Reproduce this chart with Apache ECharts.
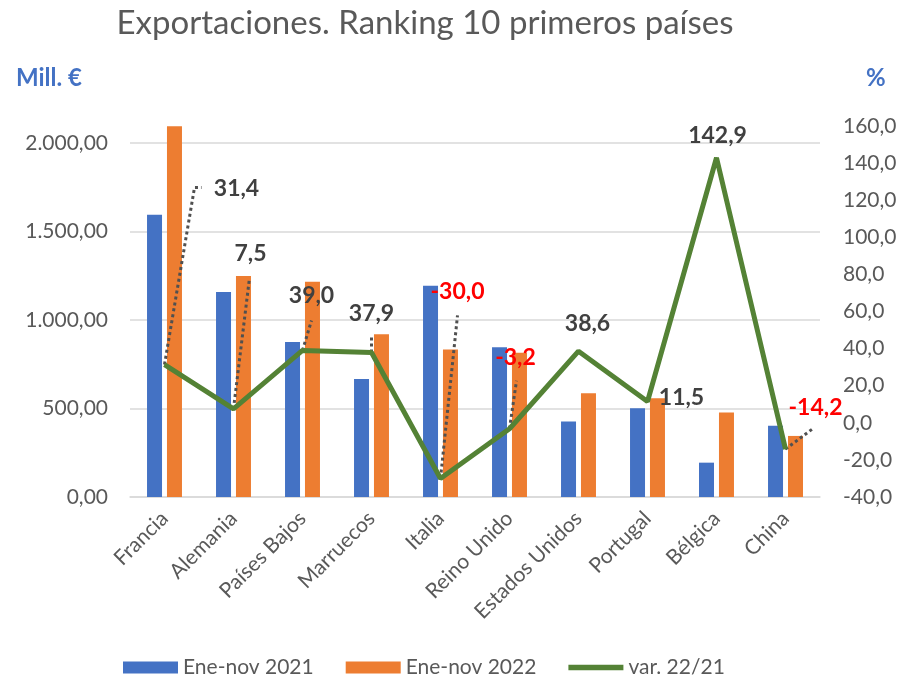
<!DOCTYPE html>
<html>
<head>
<meta charset="utf-8">
<script src="https://cdn.jsdelivr.net/npm/echarts@6/dist/echarts.min.js"></script>
<style>
    html, body { margin: 0; padding: 0; background: #fff; }
    #chart { width: 901px; height: 678px; }
</style>
</head>
<body>
<div id="chart"></div>
<script>
// datos
const paises = ['Francia', 'Alemania', 'Países Bajos', 'Marruecos', 'Italia', 'Reino Unido', 'Estados Unidos', 'Portugal', 'Bélgica', 'China'];
const ene2021 = [1595, 1158, 876, 667, 1194, 846, 426, 501, 194, 403];
const ene2022 = [2095, 1249, 1216, 919, 834, 815, 586, 558, 478, 345];
const variacion = [31.4, 7.5, 39.0, 37.9, -30.0, -3.2, 38.6, 11.5, 142.9, -14.2];

// posición de cada etiqueta respecto a su punto (px) y codos de la línea guía
const etiquetas = [
    [72, -176, [30, -177], [37, -177]],
    [17, -155, [16, -131]],
    [9, -55, [9, -30]],
    [0, -39, [0, -17]],
    [17, -187, [17, -163]],
    [6, -71, [7, -48]],
    [9, -28],
    [34, -4],
    [1, -22],
    [30, -42, [28, -21]]
];

const gris = '#595959';
const fuente = 'Lato, "Open Sans", sans-serif';

// 2000 -> "2.000,00"
function fmtMill(v) {
    const ent = Math.round(v).toString().replace(/\B(?=(\d{3})+(?!\d))/g, '.');
    return ent + ',00';
}
function fmtPct(v) {
    return v.toFixed(1).replace('.', ',');
}

const chart = echarts.init(document.getElementById('chart'));

const option = {
    backgroundColor: '#fff',
    animation: false,
    textStyle: { fontFamily: fuente },
    title: [
        {
            text: 'Exportaciones. Ranking 10 primeros países',
            left: 420,
            top: 2,
            textAlign: 'center',
            textStyle: { color: gris, fontSize: 33, fontWeight: 'normal', fontFamily: fuente }
        },
        {
            text: 'Mill. €',
            left: 11,
            top: 61,
            textStyle: { color: '#4472C4', fontSize: 24, fontWeight: 'bold', fontFamily: fuente }
        },
        {
            text: '%',
            left: 861,
            top: 61,
            textStyle: { color: '#4472C4', fontSize: 24, fontWeight: 'bold', fontFamily: fuente }
        }
    ],
    legend: {
        left: 118,
        top: 652,
        itemWidth: 55,
        itemHeight: 12,
        itemGap: 32,
        textStyle: { color: gris, fontSize: 21, fontFamily: fuente },
        data: [
            { name: 'Ene-nov 2021', icon: 'rect' },
            { name: 'Ene-nov 2022', icon: 'rect' },
            { name: 'var. 22/21', icon: 'path://M0,0L60,0L60,6L0,6Z' }
        ]
    },
    grid: {
        left: 130,
        right: 81,
        top: 126,
        bottom: 181
    },
    xAxis: {
        type: 'category',
        data: paises,
        axisLine: { lineStyle: { color: '#D9D9D9', width: 1.5 } },
        axisTick: { show: false },
        axisLabel: {
            rotate: 45,
            interval: 0,
            margin: 18,
            color: gris,
            fontSize: 21,
            fontFamily: fuente
        }
    },
    yAxis: [
        {
            type: 'value',
            min: 0,
            max: 2096,
            interval: 500,
            axisLine: { show: false },
            axisTick: { show: false },
            splitLine: { showMaxLine: false, lineStyle: { color: '#D9D9D9', width: 1.5 } },
            axisLabel: {
                showMaxLabel: false,
                margin: 22,
                color: gris,
                fontSize: 21,
                fontFamily: fuente,
                formatter: fmtMill
            }
        },
        {
            type: 'value',
            min: -40,
            max: 160,
            interval: 20,
            axisLine: { show: false },
            axisTick: { show: false },
            splitLine: { show: false },
            axisLabel: {
                margin: 23,
                color: gris,
                fontSize: 21,
                fontFamily: fuente,
                formatter: fmtPct
            }
        }
    ],
    series: [
        {
            name: 'Ene-nov 2021',
            type: 'bar',
            barWidth: 15,
            barGap: '33%',
            itemStyle: { color: '#4472C4' },
            data: ene2021
        },
        {
            name: 'Ene-nov 2022',
            type: 'bar',
            barWidth: 15,
            barGap: '33%',
            itemStyle: { color: '#ED7D31' },
            data: ene2022
        },
        {
            name: 'var. 22/21',
            type: 'line',
            yAxisIndex: 1,
            z: 5,
            symbol: 'circle',
            symbolSize: 1,
            showSymbol: true,
            itemStyle: { color: '#548235' },
            lineStyle: { color: '#548235', width: 5 },
            label: {
                show: true,
                fontSize: 23,
                fontWeight: 'bold',
                fontFamily: fuente,
                formatter: p => fmtPct(p.value)
            },
            labelLayout: function (p) {
                const e = etiquetas[p.dataIndex];
                const cx = p.rect.x + p.rect.width / 2;
                const cy = p.rect.y + p.rect.height / 2;
                return { x: cx + e[0], y: cy + e[1], align: 'center', verticalAlign: 'middle' };
            },
            data: variacion.map(v => ({
                value: v,
                label: { color: v < 0 ? '#FF0000' : '#404040' }
            }))
        }
    ]
};

chart.setOption(option);

// líneas guía punteadas desde cada punto hacia su etiqueta
const guias = [];
variacion.forEach((v, i) => {
    const e = etiquetas[i];
    if (!e[2]) return;
    const p = chart.convertToPixel({ seriesIndex: 2 }, [i, v]);
    const pts = [[p[0], p[1]]];
    for (let k = 2; k < e.length; k++) {
        pts.push([p[0] + e[k][0], p[1] + e[k][1]]);
    }
    guias.push({
        type: 'polyline',
        z: 4,
        shape: { points: pts },
        style: { fill: null, stroke: '#505050', lineWidth: 3, lineDash: [3, 3] }
    });
});
chart.setOption({ graphic: guias });
</script>
</body>
</html>
